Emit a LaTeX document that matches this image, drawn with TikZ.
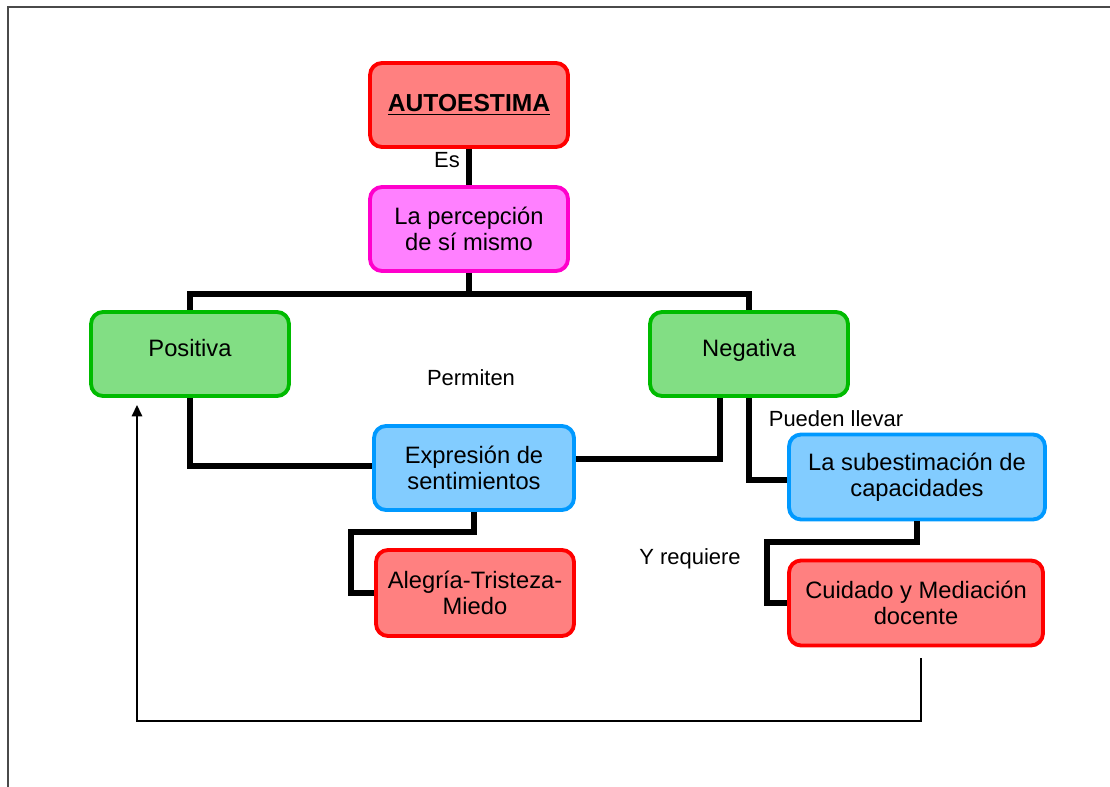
\documentclass[tikz,border=0pt]{standalone}
\usepackage{fontspec}
\setmainfont{Liberation Sans}
\usetikzlibrary{arrows.meta}

\definecolor{rojoborde}{HTML}{FF0000}
\definecolor{rojofondo}{HTML}{FF8080}
\definecolor{rosaborde}{HTML}{FF00CC}
\definecolor{rosafondo}{HTML}{FF80FF}
\definecolor{verdeborde}{HTML}{00BB00}
\definecolor{verdefondo}{HTML}{82DE84}
\definecolor{azulborde}{HTML}{0099FF}
\definecolor{azulfondo}{HTML}{82CCFF}
\definecolor{marcogris}{HTML}{4A4A4A}

\tikzset{
  caja/.style={draw, rounded corners=0.24cm, line width=2.2pt, minimum width=3.96cm,
    minimum height=1.68cm, align=center, font=\fontsize{13.5}{14.5}\selectfont},
  cajaroja/.style={caja, draw=rojoborde, fill=rojofondo},
  cajarosa/.style={caja, draw=rosaborde, fill=rosafondo},
  cajaverde/.style={caja, draw=verdeborde, fill=verdefondo},
  cajaazul/.style={caja, draw=azulborde, fill=azulfondo},
  conector/.style={line width=3.4pt},
  regreso/.style={line width=0.8pt, -{Triangle[length=6.5pt,width=6pt]}},
  etiqueta/.style={font=\fontsize{12.5}{14}\selectfont},
}

\begin{document}
\begin{tikzpicture}[x=0.02cm, y=-0.02cm]
        \useasboundingbox (0,0) rectangle (1110,787);
        \draw[marcogris, line width=1.1pt] (8,787) -- (8,7) -- (1110,7);

        % cajas
        \node[cajaroja, font=\fontsize{14}{16}\selectfont\bfseries] (autoestima) at (469,105) {\raisebox{-1pt}{\underline{AUTOESTIMA}}};
        \node[cajarosa] (percepcion) at (469,229) {La percepción\\de sí mismo};
        \node[cajaverde] (positiva) at (190,354) {\raisebox{6.5pt}{Positiva}};
        \node[cajaverde] (negativa) at (749,354) {\raisebox{6.5pt}{Negativa}};
        \node[cajaazul, minimum width=4cm] (expresion) at (474,468) {Expresión de\\sentimientos};
        \node[cajaazul, minimum width=5.12cm, minimum height=1.7cm] (subestimacion) at (917,477) {La subestimación de\\capacidades};
        \node[cajaroja, minimum height=1.72cm] (alegria) at (475,593) {Alegría-Tristeza-\\Miedo};
        \node[cajaroja, minimum width=5.08cm, minimum height=1.7cm] (cuidado) at (916,603) {Cuidado y Mediación\\docente};

        % etiquetas
        \node[etiqueta] (es) at (447,160) {Es};
        \node[etiqueta] (permiten) at (471,378) {Permiten};
        \node[etiqueta] (pueden) at (836,419) {Pueden llevar};
        \node[etiqueta] (requiere) at (690,559) {Y requiere};

        % conectores
        \draw[conector] (autoestima) -- (percepcion);
        \draw[conector] (percepcion.south) -- ++(0,21) -| (positiva.north);
        \draw[conector] (percepcion.south) ++(0,21) -| (negativa.north);
        \draw[conector] (positiva.south) |- ([yshift=0.04cm]expresion.west);
        \draw[conector] (negativa.south) ++(-29,0) |- ([yshift=0.18cm]expresion.east);
        \draw[conector] (negativa.south) |- ([yshift=-0.06cm]subestimacion.west);
        \draw[conector] (expresion.south) -- ++(0,20) -- ++(-123,0) |- (alegria.west);
        \draw[conector] (subestimacion.south) -- ++(0,21) -- ++(-150,0) |- (cuidado.west);

        % regreso
        \coordinate (salida) at (921,658);
        \coordinate (llegada) at (137,405);
        \draw[regreso] (salida) -- ++(0,63) -| (llegada);
\end{tikzpicture}
\end{document}
